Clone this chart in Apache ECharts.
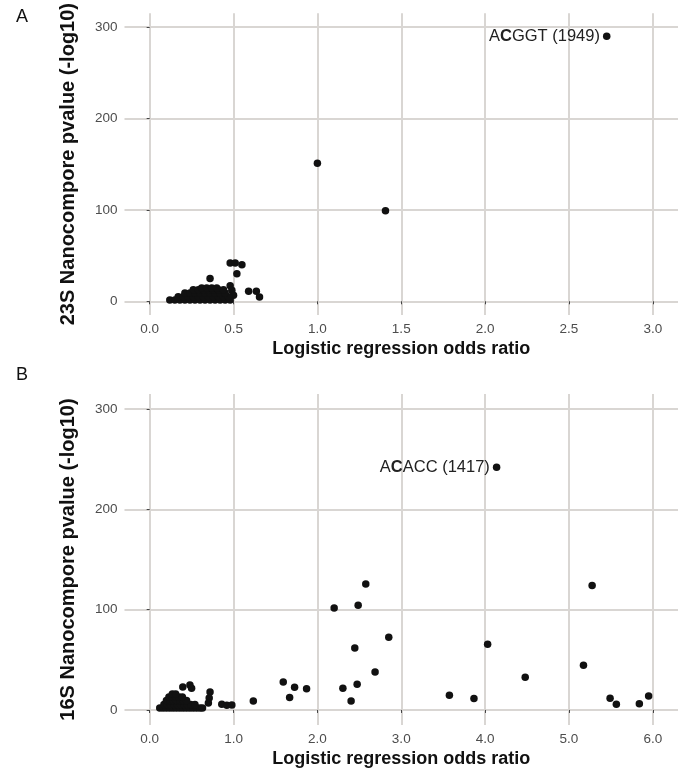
<!DOCTYPE html>
<html>
<head>
<meta charset="utf-8">
<script src="https://cdn.jsdelivr.net/npm/echarts@6/dist/echarts.min.js"></script>
<style>
  html, body { margin: 0; padding: 0; background: #fff; }
  #chart { width: 682px; height: 771px; }
</style>
</head>
<body>
<div id="chart"></div>
<script>
// 23S panel: [odds ratio, -log10 pvalue]
var pts23S = [
  [1.0, 151], [1.406, 99], [0.48, 42], [0.51, 42], [0.55, 40], [0.52, 30], [0.36, 25],
  [0.48, 17], [0.49, 12], [0.50, 6.5], [0.59, 11], [0.636, 11], [0.655, 4.6],
  // dense blob near the origin
  [0.12, 1.5], [0.15, 1.5], [0.18, 1.5], [0.21, 1.5], [0.24, 1.5], [0.27, 1.5], [0.30, 1.5],
  [0.33, 1.5], [0.36, 1.5], [0.39, 1.5], [0.42, 1.5], [0.45, 1.5], [0.48, 1.5],
  [0.17, 5], [0.20, 5], [0.23, 5], [0.26, 5], [0.29, 5], [0.32, 5], [0.35, 5], [0.38, 5],
  [0.41, 5], [0.44, 5], [0.47, 5],
  [0.21, 9], [0.24, 9], [0.27, 9], [0.30, 9], [0.33, 9], [0.36, 9], [0.39, 9], [0.42, 9], [0.45, 9],
  [0.26, 12.5], [0.29, 12.5], [0.32, 12.5], [0.35, 12.5], [0.38, 12.5], [0.41, 12.5], [0.44, 12.5],
  [0.31, 14.5], [0.34, 14.5], [0.37, 14.5], [0.40, 14.5]
];
var hit23S = [2.725, 290];
var hit23SText = ['A', 'C', 'GGT (1949)'];

// 16S panel
var pts16S = [
  [2.577, 125.6], [2.2, 101.7], [2.486, 104.4], [2.851, 72.5], [2.446, 61.8], [2.688, 37.9],
  [1.593, 27.9], [1.728, 22.6], [1.871, 21.2], [1.669, 12.3], [2.304, 21.6], [2.474, 25.6],
  [2.402, 9], [3.574, 14.6], [3.867, 11.3], [4.03, 65.5], [4.478, 32.6], [5.276, 124],
  [5.173, 44.6], [5.49, 11.7], [5.565, 5.7], [5.839, 6.3], [5.95, 14],
  [0.395, 23], [0.48, 25], [0.50, 21.6], [0.72, 18], [0.71, 12], [0.70, 7],
  [0.86, 5.7], [0.92, 4.7], [0.98, 5], [1.236, 9],
  // dense blob near the origin
  [0.12, 2], [0.16, 2], [0.20, 2], [0.24, 2], [0.28, 2], [0.32, 2], [0.36, 2], [0.40, 2],
  [0.44, 2], [0.48, 2], [0.52, 2], [0.56, 2], [0.60, 2], [0.63, 2],
  [0.17, 5.5], [0.21, 5.5], [0.25, 5.5], [0.29, 5.5], [0.33, 5.5], [0.37, 5.5], [0.41, 5.5],
  [0.45, 5.5], [0.49, 5.5], [0.54, 5.5],
  [0.20, 9.5], [0.24, 9.5], [0.28, 9.5], [0.32, 9.5], [0.36, 9.5], [0.40, 9.5], [0.44, 9.5],
  [0.23, 13], [0.27, 13], [0.31, 13], [0.35, 13], [0.39, 13],
  [0.27, 16], [0.31, 16]
];
var hit16S = [4.137, 242];
var hit16SText = ['A', 'C', 'ACC (1417)'];

var xTicks23S = [0, 0.5, 1.0, 1.5, 2.0, 2.5, 3.0];
var xTicks16S = [0, 1, 2, 3, 4, 5, 6];
var yTicks = [0, 100, 200, 300];

var FONT = '"Liberation Sans", Arial, sans-serif';
var gridColor = '#d9d6d3';
var dotColor = '#111';

function xAxisFor(idx, min, max, ticks) {
  return {
    type: 'value', gridIndex: idx, min: min, max: max,
    name: 'Logistic regression odds ratio', nameLocation: 'middle', nameGap: 25,
    nameTextStyle: { fontFamily: FONT, fontSize: 18, fontWeight: 'bold', color: '#111' },
    axisLine: { show: false },
    axisTick: { show: true, length: 3, customValues: ticks, lineStyle: { color: '#444' } },
    axisLabel: { customValues: ticks, margin: 7, fontFamily: FONT, fontSize: 13.5, color: '#4d4d4d',
      formatter: function (v) { return v.toFixed(1); } },
    splitLine: { show: true, lineStyle: { color: gridColor, width: 2 } }
  };
}
function yAxisFor(idx, title) {
  return {
    type: 'value', gridIndex: idx, min: -15, max: 315,
    name: title, nameLocation: 'middle', nameGap: 46, nameRotate: 90,
    nameTextStyle: { fontFamily: FONT, fontSize: 20, fontWeight: 'bold', color: '#111' },
    axisLine: { show: false },
    axisTick: { show: true, length: 3, customValues: yTicks, lineStyle: { color: '#444' } },
    axisLabel: { customValues: yTicks, margin: 7, fontFamily: FONT, fontSize: 13.5, color: '#4d4d4d' },
    splitLine: { show: true, lineStyle: { color: gridColor, width: 2 } }
  };
}
function dotSeries(idx, data) {
  return {
    type: 'scatter', xAxisIndex: idx, yAxisIndex: idx, symbolSize: 7.5,
    itemStyle: { color: dotColor, opacity: 1 }, data: data
  };
}
function hitSeries(idx, pt, parts) {
  var s = dotSeries(idx, [pt]);
  s.label = {
    show: true, position: 'left', distance: 3,
    formatter: '{n|' + parts[0] + '}{b|' + parts[1] + '}{n|' + parts[2] + '}',
    rich: {
      n: { fontFamily: FONT, fontSize: 16.5, color: '#222' },
      b: { fontFamily: FONT, fontSize: 16.5, color: '#222', fontWeight: 'bold' }
    }
  };
  return s;
}

var chart = echarts.init(document.getElementById('chart'));
var option = {
  animation: false,
  backgroundColor: '#fff',
  title: [
    { text: 'A', left: 11, top: 3, textStyle: { fontFamily: FONT, fontSize: 18, fontWeight: 'normal', color: '#111' } },
    { text: 'B', left: 11, top: 361, textStyle: { fontFamily: FONT, fontSize: 18, fontWeight: 'normal', color: '#111' } }
  ],
  grid: [
    { left: 124.5, right: 4, top: 10, height: 305 },
    { left: 124.5, right: 4, top: 394, height: 331 }
  ],
  xAxis: [xAxisFor(0, -0.15, 3.15, xTicks23S), xAxisFor(1, -0.3, 6.3, xTicks16S)],
  yAxis: [yAxisFor(0, '23S Nanocompore pvalue (-log10)'), yAxisFor(1, '16S Nanocompore pvalue (-log10)')],
  series: [
    dotSeries(0, pts23S),
    hitSeries(0, hit23S, hit23SText),
    dotSeries(1, pts16S),
    hitSeries(1, hit16S, hit16SText)
  ]
};
chart.setOption(option);
window.addEventListener('resize', function () { chart.resize(); });
</script>
</body>
</html>
